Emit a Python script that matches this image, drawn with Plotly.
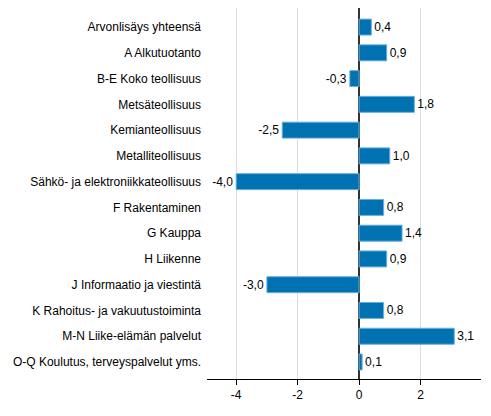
import plotly.graph_objects as go

categories = [
    "Arvonlisäys yhteensä",
    "A Alkutuotanto",
    "B-E Koko teollisuus",
    "Metsäteollisuus",
    "Kemianteollisuus",
    "Metalliteollisuus",
    "Sähkö- ja elektroniikkateollisuus",
    "F Rakentaminen",
    "G Kauppa",
    "H Liikenne",
    "J Informaatio ja viestintä",
    "K Rahoitus- ja vakuutustoiminta",
    "M-N Liike-elämän palvelut",
    "O-Q Koulutus, terveyspalvelut yms.",
]
values = [0.4, 0.9, -0.3, 1.8, -2.5, 1.0, -4.0, 0.8, 1.4, 0.9, -3.0, 0.8, 3.1, 0.1]
tick_vals = [-4, -2, 0, 2]
tick_text = ["-4", "-2", "0", "2"]

labels = [f"{v:.1f}".replace(".", ",") for v in values]

fig = go.Figure(
    go.Bar(
        x=values,
        y=categories,
        orientation="h",
        width=0.62,
        marker=dict(color="#0072B2", line=dict(color="#6AAEDD", width=1)),
        text=labels,
        textposition="outside",
        textfont=dict(family="Liberation Sans, Arial, sans-serif", size=12, color="#000000"),
        cliponaxis=False,
    )
)

# page body has an 8px default margin, so the figure is sized to fit the window
fig.update_layout(
    width=483,
    height=408,
    margin=dict(l=199, r=10, t=0, b=37, autoexpand=False),
    paper_bgcolor="white",
    plot_bgcolor="white",
    font=dict(family="Liberation Sans, Arial, sans-serif", size=12, color="#000000"),
    showlegend=False,
)

fig.update_xaxes(
    range=[-4.95, 3.97],
    tickvals=tick_vals,
    ticktext=tick_text,
    showgrid=True,
    gridcolor="#DDDDDD",
    gridwidth=1,
    zeroline=True,
    zerolinecolor="#333333",
    zerolinewidth=2,
    showline=True,
    linecolor="#000000",
    linewidth=1,
    ticks="outside",
    ticklen=5,
    tickcolor="#000000",
    automargin=False,
    fixedrange=True,
)

fig.update_yaxes(
    autorange=False,
    range=[13.66, -0.74],
    showgrid=False,
    zeroline=False,
    showline=False,
    ticks="",
    ticklabelstandoff=5,
    automargin=False,
    fixedrange=True,
)

fig.write_html("out.html")
